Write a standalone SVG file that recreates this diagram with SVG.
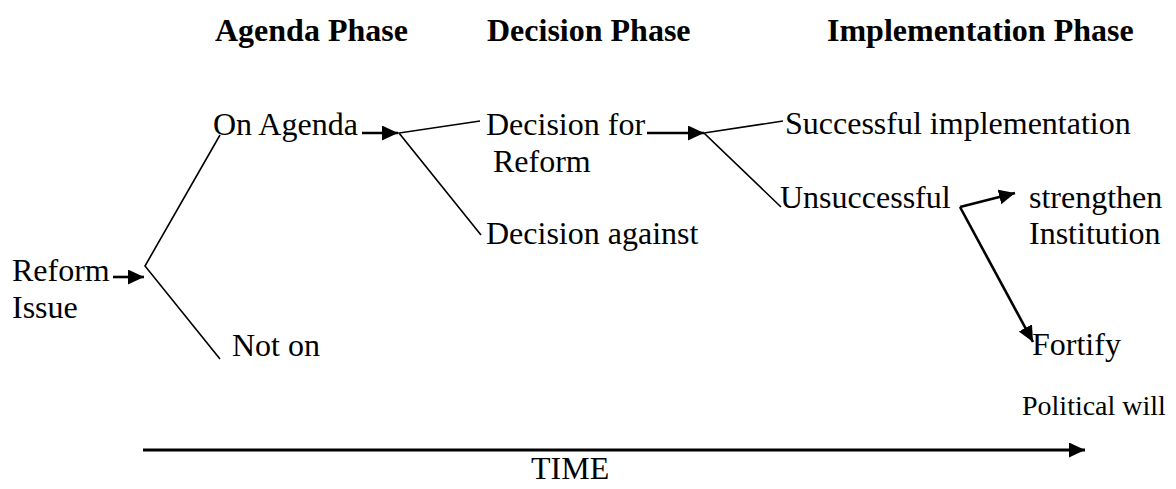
<svg xmlns="http://www.w3.org/2000/svg" width="1176" height="489" viewBox="0 0 1176 489">
  <style>
    text { font-family: "Liberation Serif", "Times New Roman", serif; fill: #000; }
    .lbl { font-size: 32px; }
    .head { font-size: 32px; font-weight: bold; }
    .small { font-size: 28px; }
    .branch { stroke: #000; stroke-width: 1.6; fill: none; }
    .arrow { stroke: #000; stroke-width: 2.6; fill: none; marker-end: url(#head); }
    .time { stroke: #000; stroke-width: 3.2; fill: none; marker-end: url(#head); }
  </style>
  <defs>
    <marker id="head" markerUnits="userSpaceOnUse" markerWidth="18" markerHeight="16" refX="16" refY="7.5" orient="auto">
      <path d="M0,0 L16,7.5 L0,15 Z" fill="#000"/>
    </marker>
  </defs>

  <rect width="1176" height="489" fill="#fff"/>

  <!-- phase headings -->
  <g id="phases">
    <text class="head" x="215" y="41">Agenda Phase</text>
    <text class="head" x="487" y="41">Decision Phase</text>
    <text class="head" x="827" y="41">Implementation Phase</text>
  </g>

  <!-- nodes -->
  <g id="reform-issue">
    <text class="lbl" x="12" y="281">Reform</text>
    <text class="lbl" x="12" y="318">Issue</text>
  </g>
  <g id="on-agenda"><text class="lbl" x="213" y="135">On Agenda</text></g>
  <g id="not-on"><text class="lbl" x="232" y="356">Not on</text></g>
  <g id="decision-for">
    <text class="lbl" x="486" y="135">Decision for</text>
    <text class="lbl" x="493" y="172">Reform</text>
  </g>
  <g id="decision-against"><text class="lbl" x="486" y="244">Decision against</text></g>
  <g id="successful"><text class="lbl" x="785" y="134">Successful implementation</text></g>
  <g id="unsuccessful"><text class="lbl" x="780" y="208">Unsuccessful</text></g>
  <g id="strengthen">
    <text class="lbl" x="1029" y="208">strengthen</text>
    <text class="lbl" x="1029" y="244">Institution</text>
  </g>
  <g id="fortify"><text class="lbl" x="1032" y="355">Fortify</text></g>
  <g id="political-will"><text class="small" x="1022" y="415">Political will</text></g>
  <g id="time"><text class="lbl" x="531" y="479">TIME</text></g>

  <!-- connectors -->
  <g id="connectors">
    <line class="arrow" x1="113" y1="277" x2="144" y2="277"/>
    <polyline class="branch" points="220,135 145,266 220,359"/>

    <line class="arrow" x1="362" y1="133" x2="398" y2="133"/>
    <polyline class="branch" points="480,121 399,133 481,235"/>

    <line class="arrow" x1="647" y1="133" x2="704" y2="133"/>
    <polyline class="branch" points="783,121 704,133 781,207"/>

    <line class="arrow" x1="960" y1="207" x2="1015" y2="193"/>
    <line class="arrow" x1="960" y1="207" x2="1033" y2="342"/>

    <line class="time" x1="143" y1="450" x2="1085" y2="450"/>
  </g>
</svg>
